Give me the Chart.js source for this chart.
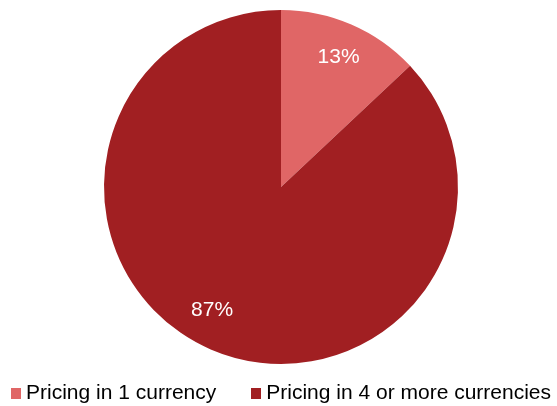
<!DOCTYPE html>
<html>
<head>
<meta charset="utf-8">
<script src="https://cdn.jsdelivr.net/npm/chart.js@4/dist/chart.umd.min.js"></script>
<style>
  html, body { margin: 0; padding: 0; background: #fff; }
  #wrap { width: 557px; height: 406px; position: relative; }
  #legend {
    position: absolute; left: 11px; top: 380px;
    display: flex; margin: 0; padding: 0; list-style: none;
    font: 21px/24px "Liberation Sans", Arial, sans-serif; color: #000;
  }
  #legend li { display: flex; align-items: flex-start; white-space: nowrap; }
  #legend li + li { margin-left: 35px; }
  #legend .box { width: 10px; height: 11px; margin: 8px 5px 0 0; }
</style>
</head>
<body>
<div id="wrap">
  <canvas id="pie"></canvas>
  <ul id="legend"></ul>
</div>
<script>
const categories = ['Pricing in 1 currency', 'Pricing in 4 or more currencies'];
const shares = [13, 87];
const sliceColors = ['#E06666', '#A11F22'];

// percentage labels inside each slice
const sliceLabels = {
  id: 'sliceLabels',
  afterDatasetsDraw(chart) {
    const ctx = chart.ctx;
    const meta = chart.getDatasetMeta(0);
    const angleShift = [0.01, 0.1];
    ctx.save();
    ctx.fillStyle = '#ffffff';
    ctx.font = '21px "Liberation Sans", Arial, sans-serif';
    ctx.textAlign = 'center';
    ctx.textBaseline = 'middle';
    meta.data.forEach((arc, i) => {
      const mid = (arc.startAngle + arc.endAngle) / 2 + angleShift[i];
      const r = arc.outerRadius * 0.8;
      ctx.fillText(shares[i] + '%', arc.x + Math.cos(mid) * r, arc.y + Math.sin(mid) * r);
    });
    ctx.restore();
  }
};

// legend rendered as html from the chart's own legend items
const htmlLegend = {
  id: 'htmlLegend',
  afterUpdate(chart) {
    const ul = document.getElementById('legend');
    ul.innerHTML = '';
    const items = chart.options.plugins.legend.labels.generateLabels(chart);
    items.forEach(item => {
      const li = document.createElement('li');
      const box = document.createElement('span');
      box.className = 'box';
      box.style.background = item.fillStyle;
      const text = document.createElement('span');
      text.textContent = item.text;
      li.appendChild(box);
      li.appendChild(text);
      ul.appendChild(li);
    });
  }
};

new Chart(document.getElementById('pie'), {
  type: 'pie',
  data: {
    labels: categories,
    datasets: [{
      data: shares,
      backgroundColor: sliceColors,
      borderWidth: 0
    }]
  },
  options: {
    responsive: true,
    maintainAspectRatio: false,
    animation: false,
    layout: { padding: { top: 10, bottom: 42, left: 5, right: 0 } },
    plugins: {
      tooltip: { enabled: false },
      legend: { display: false }
    }
  },
  plugins: [sliceLabels, htmlLegend]
});
</script>
</body>
</html>
